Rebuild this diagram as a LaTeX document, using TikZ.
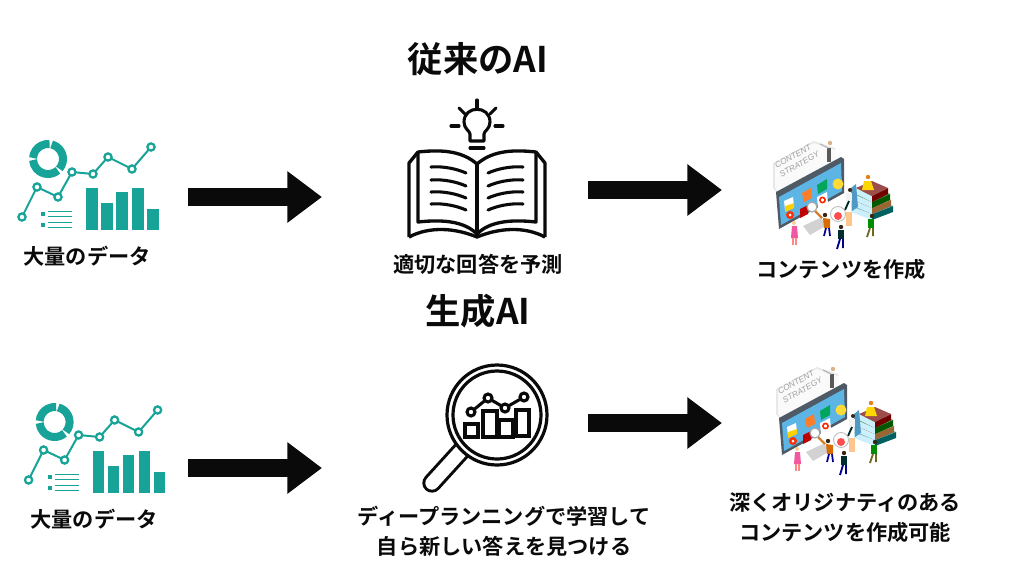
\documentclass[tikz,border=0pt]{standalone}
\usepackage{fontspec}
\setmainfont{Noto Sans CJK JP}[BoldFont=* Bold]
\newfontfamily\cardfont{Liberation Sans}
\usetikzlibrary{positioning, arrows.meta}
\definecolor{tealicon}{HTML}{17A398}
\definecolor{inkblack}{HTML}{0A0A0A}
\definecolor{screenblue}{HTML}{5DB5E6}
\definecolor{monitorgray}{HTML}{4E5A66}
\tikzset{
    title/.style={font=\fontsize{26.5}{30}\selectfont\bfseries, text=inkblack, inner sep=0pt},
    label/.style={font=\fontsize{15.9}{22.5}\selectfont\bfseries, text=inkblack, inner sep=0pt, align=center},
    bigarrow/.style={line width=13.5pt, inkblack, -{Triangle[length=26pt,width=37pt]}},
    inkline/.style={inkblack, line width=2.3pt, line cap=round, line join=round},
    bookpage/.style={inkblack, line width=2.5pt, line join=round},
    cardtext/.style={font=\cardfont\fontsize{6.2}{7.4}\selectfont\itshape, text=gray!75, inner sep=0pt, align=left, rotate=29},
    pics/dataicon/.style={code={
        % donut
        \foreach \a/\b in {284/401, 49/176, 184/276}
            \draw[tealicon, line width=6pt] (48,159) ++(\a:15) arc[start angle=\a, end angle=\b, radius=15];
        % line chart
        \draw[tealicon, line width=1.5pt] (22,217) -- (37,187) -- (58,197) -- (72,172) -- (93,174) -- (108,157) -- (132,169) -- (151,147);
        \foreach \x/\y in {22/217, 37/187, 58/197, 72/172, 93/174, 108/157, 132/169, 151/147}
            \draw[tealicon, fill=white, line width=1.7pt] (\x,\y) circle[radius=3.6];
        % bars
        \foreach \x/\y in {86/188, 101/203, 116/192, 132/188, 147/209}
            \fill[tealicon] (\x,\y) rectangle ++(11.5,230-\y);
        % list
        \foreach \y in {214, 225} {
            \fill[tealicon] (41,\y-2) rectangle ++(4,4);
            \foreach \d in {-2.5, 2.5}
                \draw[tealicon, line width=1pt] (48,\y+\d) -- (72,\y+\d);
        }
    }},
    pics/contenticon/.style={code={
        % card behind the screen
        \fill[gray!18] (773,163) -- (814,141) -- (835,148) -- (835,165) -- (778,194) -- (773,188) -- cycle;
        \fill[white!96!gray] (775,163) -- (814,143) -- (835,150) -- (835,165) -- (778,192) -- (775,188) -- cycle;
        \node[cardtext] (cardlabel) at (797,160) {CONTENT\\STRATEGY};
        % stand and monitor
        \fill[gray!35] (803,226) -- (820,218) -- (829,224) -- (810,235) -- cycle;
        \fill[monitorgray] (776,192) -- (841,157) -- (844,159) -- (844,193) -- (779,229) -- cycle;
        \fill[screenblue] (779,197) -- (841,163) -- (842,191) -- (781,225) -- cycle;
        % things on the screen
        \fill[white] (784,201) -- (793,197) -- (794,206) -- (785,210) -- cycle;
        \fill[yellow!70!orange] (785,206) -- (794,203) -- (794,208) -- (785,212) -- cycle;
        \fill[orange!80!red!85] (802,193) -- (811,188) -- (812,198) -- (804,202) -- cycle;
        \fill[teal!70!green] (817,185) -- (827,179) -- (827,189) -- (818,194) -- cycle;
        \fill[white] (817,197) -- (827,192) -- (828,204) -- (818,209) -- cycle;
        \draw[red!70!orange, line width=1.2pt] (822.5,200) circle[radius=2.6];
        \fill[yellow!70!orange!80] (838,184) circle[radius=5.5];
        \fill[red!65!orange] (790,215) circle[radius=4];
        \fill[white] (790,215) circle[radius=1.5];
        \fill[red!75!black] (800,209) -- (808,205) -- (808,214) -- (800,218) -- cycle;
        % magnifier
        \draw[brown!70!orange, line width=1.6pt] (815,211) -- (822,218);
        \draw[gray!70, fill=white, line width=0.9pt] (812,207) circle[radius=5];
        % books
        \foreach \y/\w/\c in {206/21/teal!75!black, 200/19/brown!80!black, 194/18/green!35!black, 188/16/red!45!black} {
            \fill[white!80!cyan] (872-\w,\y) -- (872,\y+8) -- (872,\y+14) -- (872-\w,\y+6) -- cycle;
            \fill[\c] (872,\y+8) -- (872+\w,\y) -- (872+\w,\y+6) -- (872,\y+14) -- cycle;
            \fill[\c!70!white] (872-\w,\y) -- (872,\y-7) -- (872+\w,\y) -- (872,\y+8) -- cycle;
        }
        \fill[screenblue!85!black] (851,188) -- (856,184) -- (858,207) -- (852,211) -- cycle;
        % people
        \fill[black!65] (827,148) rectangle (831,162);
        \fill[brown!60] (830,143) circle[radius=2.2];
        \draw[gray!55, line width=1pt] (828,148) -- (820,144);
        \fill[orange!40!white] (794,223) circle[radius=2];
        \fill[magenta!55!pink] (792,226) -- (797,226) -- (798,238) -- (791,238) -- cycle;
        \draw[pink!70!red, line width=0.9pt] (793,238) -- (793,245) (796,238) -- (796,245);
        \fill[black!70!brown] (825,215) circle[radius=2.2];
        \fill[orange!85!black] (823,218) -- (830,219) -- (830,228) -- (824,228) -- cycle;
        \draw[blue!60!black, line width=1.3pt] (826,228) -- (824,236) (829,228) -- (830,236);
        \fill[black!70!brown] (841,227) circle[radius=2.2];
        \fill[black!65!teal] (838,230) rectangle (844,239);
        \draw[blue!55!black, line width=1.4pt] (840,239) -- (837,249) (843,239) -- (843,248);
        \fill[black!70!brown] (872,216) circle[radius=2.2];
        \fill[green!55!black] (868,219) rectangle (874,228);
        \draw[olive!70!black, line width=1.4pt] (870,228) -- (867,237) (873,228) -- (873,236);
        \fill[black!70!brown] (850,190) circle[radius=2];
        \fill[white!90!gray] (846,193) rectangle (852,201);
        \draw[black!70!teal, line width=1.4pt] (849,201) -- (845,210);
        \draw[gray!50, fill=white, line width=0.7pt] (838,214) circle[radius=7.5];
        \fill[red!60!pink] (838,216) circle[radius=4];
        \fill[orange!45!white] (846,212) rectangle (852,226);
        \fill[orange!60!brown] (868,177) circle[radius=2.2];
        \fill[yellow!75!orange] (864,181) -- (871,181) -- (874,190) -- (862,190) -- cycle;
    }},
}

\begin{document}
\begin{tikzpicture}[x=0.75pt, y=-0.75pt]
\useasboundingbox (0,0) rectangle (1024,576);
% titles
\node [title] (oldtitle) at (478,59) {従来のAI};
\node [title] (gentitle) at (478,311) {生成AI};
% upper row
\pic (dataA) at (0,0) {dataicon};
\node [label] (dataAtext) at (87,256) {大量のデータ};
% book
\draw[bookpage] (409,237) -- (409,163) -- (418,152);
\draw[bookpage] (545,237) -- (545,163) -- (536,152);
\draw[bookpage] (477,164) .. controls (463,152) and (445,149) .. (418,152) -- (418,222) .. controls (445,219) and (465,222) .. (477,234);
\draw[bookpage] (477,164) .. controls (491,152) and (509,149) .. (536,152) -- (536,222) .. controls (509,219) and (489,222) .. (477,234);
\draw[bookpage] (409,237) .. controls (430,226) and (455,228) .. (477,237) .. controls (499,228) and (524,226) .. (545,237);
\draw[bookpage] (477,164) -- (477,237);
\foreach \y in {167, 180, 192, 204} {
    \draw[inkline] (431,\y) .. controls (444,\y-1) and (457,\y+2) .. (466,\y+6);
    \draw[inkline] (523,\y) .. controls (510,\y-1) and (497,\y+2) .. (488,\y+6);
}
% bulb
\draw[inkline] (470,141) -- (470,134) .. controls (470,131) and (464,129) .. (464,122) .. controls (464,105) and (490,105) .. (490,122) .. controls (490,129) and (484,131) .. (484,134) -- (484,141) -- cycle;
\draw[inkline] (470,148) -- (484,148);
\draw[inkline] (477,100) -- (477,108);
\draw[inkline] (451,126) -- (459,126);
\draw[inkline] (495,126) -- (503,126);
\draw[inkline] (459,108) -- (465,114);
\draw[inkline] (496,108) -- (490,114);
\node [label] (booktext) at (478,264) {適切な回答を予測};
\pic (contentA) at (0,0) {contenticon};
\node [label] (contentAtext) at (841,269) {コンテンツを作成};
% lower row
\pic (dataB) at (6.6,263) {dataicon};
\node [label] (dataBtext) at (94,519) {大量のデータ};
% magnifier
\draw[inkblack, line width=14.5pt, line cap=round] (462,450) -- (432,483);
\draw[white, line width=10pt, line cap=round] (462,450) -- (432,483);
\draw[inkblack, fill=white, line width=2.4pt] (497,415) circle[radius=50];
\draw[inkblack, line width=2.4pt] (497,415) circle[radius=44];
\foreach \xa/\ya/\xb/\yb in {465/424/478/437, 483/411/497/437, 499/420/513/437, 516/410/529/436}
    \draw[inkblack, line width=2.5pt] (\xa,\ya) rectangle (\xb,\yb);
\draw[inkblack, line width=2.3pt] (471,412) -- (488,398) -- (505,408) -- (524,397);
\foreach \x/\y in {471/412, 488/398, 505/408, 524/397}
    \draw[inkblack, fill=white, line width=2.3pt] (\x,\y) circle[radius=4];
\node [label] (lenstext) at (504,531) {ディープランニングで学習して\\自ら新しい答えを見つける};
\pic (contentB) at (3,226) {contenticon};
\node [label] (contentBtext) at (845,518) {深くオリジナティのある\\コンテンツを作成可能};
% arrows
\coordinate (arrowAs) at (188,197);
\coordinate (arrowAe) at (322,197);
\coordinate (arrowBs) at (588,190);
\coordinate (arrowBe) at (722,190);
\coordinate (arrowCs) at (188,468);
\coordinate (arrowCe) at (322,468);
\coordinate (arrowDs) at (588,423);
\coordinate (arrowDe) at (722,423);
\draw[bigarrow] (arrowAs) -- (arrowAe);
\draw[bigarrow] (arrowBs) -- (arrowBe);
\draw[bigarrow] (arrowCs) -- (arrowCe);
\draw[bigarrow] (arrowDs) -- (arrowDe);
\end{tikzpicture}
\end{document}
